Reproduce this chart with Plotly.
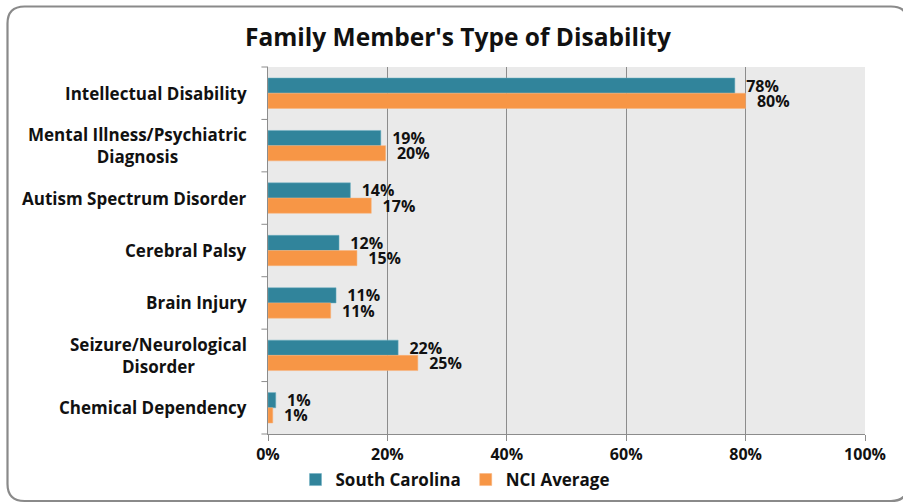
import plotly.graph_objects as go

categories = ["Intellectual Disability", "Mental Illness/Psychiatric<br>Diagnosis",
              "Autism Spectrum Disorder", "Cerebral Palsy", "Brain Injury",
              "Seizure/Neurological<br>Disorder", "Chemical Dependency"]
sc_values = [78.2, 18.9, 13.8, 11.9, 11.4, 21.8, 1.3]
nci_values = [80.0, 19.7, 17.3, 14.9, 10.5, 25.1, 0.8]
sc_labels = ["78%", "19%", "14%", "12%", "11%", "22%", "1%"]
nci_labels = ["80%", "20%", "17%", "15%", "11%", "25%", "1%"]
tick_vals = [0, 20, 40, 60, 80, 100]
tick_text = ["0%", "20%", "40%", "60%", "80%", "100%"]

FONT = "Open Sans"
W, H = 903, 503
L, R, T, B = 268, 38, 67, 69
PW, PH = W - L - R, H - T - B


def px(x):
    return (x - L) / PW


def py(y):
    return (H - B - y) / PH


fig = go.Figure()
fig.add_trace(go.Bar(y=categories, x=sc_values, orientation="h", name="<b>South Carolina</b>",
                     marker=dict(color="#31849B", line=dict(color="#6FB0C2", width=0.5)),
                     text=sc_labels, textposition="outside", cliponaxis=False,
                     constraintext="none", texttemplate="<b>  %{text}</b>",
                     textfont=dict(family=FONT, size=16, color="#111111")))
fig.add_trace(go.Bar(y=categories, x=nci_values, orientation="h", name="<b>NCI Average</b>",
                     marker=dict(color="#F79646", line=dict(color="#F9B27A", width=0.5)),
                     text=nci_labels, textposition="outside", cliponaxis=False,
                     constraintext="none", texttemplate="<b>  %{text}</b>",
                     textfont=dict(family=FONT, size=16, color="#111111")))

# rounded chart border
x0, x1, y0, y1, r = 7.5, 908, 6.5, 501, 17
path = (f"M {px(x0 + r)} {py(y0)} L {px(x1 - r)} {py(y0)} "
        f"Q {px(x1)} {py(y0)} {px(x1)} {py(y0 + r)} L {px(x1)} {py(y1 - r)} "
        f"Q {px(x1)} {py(y1)} {px(x1 - r)} {py(y1)} L {px(x0 + r)} {py(y1)} "
        f"Q {px(x0)} {py(y1)} {px(x0)} {py(y1 - r)} L {px(x0)} {py(y0 + r)} "
        f"Q {px(x0)} {py(y0)} {px(x0 + r)} {py(y0)} Z")
shapes = [dict(type="path", xref="paper", yref="paper", path=path,
               line=dict(color="#8A8A8A", width=2.2), layer="below")]
for i in range(len(categories) + 1):
    shapes.append(dict(type="line", xref="paper", yref="paper", x0=-0.011, x1=0,
                       y0=i / len(categories), y1=i / len(categories),
                       line=dict(color="#8C8C8C", width=1)))

# category labels: block right-aligned, lines centred
annotations = [dict(xref="paper", yref="y", x=px(249), y=c, xanchor="right",
                    yanchor="middle", align="center", showarrow=False,
                    text="<b>" + c + "</b>",
                    font=dict(family=FONT, size=17, color="#111111"))
               for c in categories]

fig.update_layout(
    width=W, height=H,
    margin=dict(l=L, r=R, t=T, b=B, autoexpand=False),
    paper_bgcolor="white", plot_bgcolor="#EAEAEA",
    barmode="group", bargap=0.42, bargroupgap=0,
    font=dict(family=FONT, size=15, color="#111111"),
    title=dict(text="<b>Family Member's Type of Disability</b>", xref="container",
               x=458 / W, xanchor="center", y=1 - 37 / H, yanchor="middle",
               font=dict(family=FONT, size=24.5, color="#111111")),
    xaxis=dict(range=[0, 100], tickvals=tick_vals,
               ticktext=["<b>" + t + "</b>" for t in tick_text],
               showgrid=True, gridcolor="#8C8C8C", gridwidth=1,
               showline=True, linecolor="#8C8C8C", ticks="outside", ticklen=6,
               tickcolor="#8C8C8C", tickfont=dict(family=FONT, size=16, color="#111111"),
               zeroline=False, automargin=False),
    yaxis=dict(autorange="reversed", showline=True, linecolor="#8C8C8C",
               ticks="", showticklabels=False, categoryorder="array",
               categoryarray=categories, automargin=False),
    legend=dict(orientation="h", x=px(455), xanchor="center", y=py(480), yanchor="middle",
                font=dict(family=FONT, size=17, color="#111111"),
                bgcolor="rgba(0,0,0,0)", itemwidth=30, traceorder="normal"),
    shapes=shapes,
    annotations=annotations,
)
fig.write_html("out.html", config={"displayModeBar": False},
               post_script="document.body.style.margin='0';")
